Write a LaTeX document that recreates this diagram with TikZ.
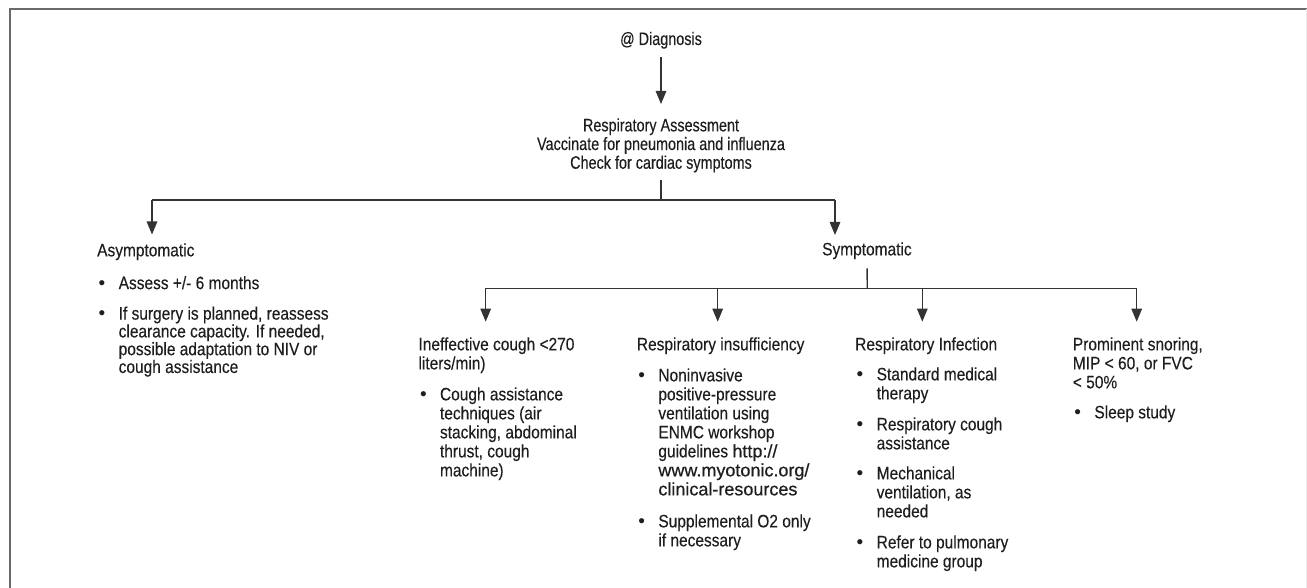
\documentclass[tikz,border=0pt]{standalone}
\usepackage{fontspec}
\setmainfont{Liberation Sans}[FakeStretch=0.86,FakeBold=0.25]
\newfontfamily\headfont{Liberation Sans}[FakeStretch=0.80,FakeBold=0.25]
\newfontfamily\urlfont{Liberation Sans}[FakeBold=0.6]
\newfontfamily\dotfont{Liberation Sans}
\usetikzlibrary{arrows.meta}

\definecolor{ink}{HTML}{1E1E1E}
\definecolor{wirecol}{HTML}{333333}
\definecolor{rimcol}{HTML}{6A6A6A}

\newcommand{\bul}{\makebox[21.5pt][l]{\hspace{1.5pt}{\dotfont\fontsize{19}{19}\selectfont\textbullet}}}
\newcommand{\ind}{\hspace*{21.5pt}}
\newcommand{\link}[1]{{\urlfont\fontsize{18}{19}\selectfont #1}}

\begin{document}
\begin{tikzpicture}[x=1pt,y=-1pt,
    head/.style={inner sep=0pt, text=ink, font=\headfont\fontsize{18}{18.7}\selectfont},
    body/.style={inner sep=0pt, text=ink, align=left, anchor=north west, font=\fontsize{18}{19}\selectfont},
    wire/.style={draw=wirecol, line width=1.4pt},
    arr/.style={wire, -{Triangle[length=13pt,width=10.5pt]}}]
\useasboundingbox (0,0) rectangle (1307,588);
\draw[rimcol, line width=2pt] (9.5,588) -- (9.5,9) -- (1307,9);
\draw[black!8, line width=1pt] (1306,9) -- (1306,588);

\node[head, anchor=base] (diag) at (661,45) {@ Diagnosis};
\node[head, anchor=north, align=center] (assess) at (661,118.1) {Respiratory Assessment\\Vaccinate for pneumonia and influenza\\Check for cardiac symptoms};

\node[body, font=\fontsize{18}{15.5}\selectfont] (asym) at (97,243.1) {Asymptomatic\\[15pt]
\bul Assess +/- 6 months\\[15pt]
\bul If surgery is planned, reassess\\
\ind clearance capacity. If needed,\\
\ind possible adaptation to NIV or\\
\ind cough assistance};
\node[body] (sym) at (822,242.1) {Symptomatic};

\node[body] (cough) at (418.3,337.1) {Ineffective cough <270\\
liters/min)\\[12pt]
\bul Cough assistance\\
\ind techniques (air\\
\ind stacking, abdominal\\
\ind thrust, cough\\
\ind machine)};
\node[body] (insuf) at (636.7,337.1) {Respiratory insufficiency\\[12pt]
\bul Noninvasive\\
\ind positive-pressure\\
\ind ventilation using\\
\ind ENMC workshop\\
\ind guidelines \link{http://}\\
\ind \link{www.myotonic.org/}\\
\ind \link{clinical-resources}\\[13pt]
\bul Supplemental O2 only\\
\ind if necessary};
\node[body] (infect) at (855,337.1) {Respiratory Infection\\[11pt]
\bul Standard medical\\
\ind therapy\\[12pt]
\bul Respiratory cough\\
\ind assistance\\[11pt]
\bul Mechanical\\
\ind ventilation, as\\
\ind needed\\[12pt]
\bul Refer to pulmonary\\
\ind medicine group};
\node[body] (snore) at (1072.7,337.1) {Prominent snoring,\\
MIP < 60, or FVC\\
< 50\%\\[11pt]
\bul Sleep study};

% branch points
\coordinate (split) at (661,200);
\coordinate (left) at (152,200);
\coordinate (right) at (835,200);
\coordinate (fork) at (867.3,288.3);
\coordinate (c1) at (485.7,288.3);
\coordinate (c2) at (717.7,288.3);
\coordinate (c3) at (922.3,288.3);
\coordinate (c4) at (1136.7,288.3);

\draw[arr, shorten <=8.2pt, shorten >=14.1pt] (diag.south) -- (assess.north);
\draw[wire, shorten <=6.9pt] (assess.south) -- (split);
\draw[wire] (left) -- (right);
\draw[arr, shorten >=8.6pt] (left) -- (asym.north -| left);
\draw[arr, shorten >=7.1pt] (right) -- (sym.north -| right);
\draw[wire, shorten <=9.2pt] (sym.south) -- (fork);
\draw[wire] (c1) -- (c4);
\foreach \src/\dst in {c1/cough, c2/insuf, c3/infect, c4/snore}
  \draw[arr, shorten >=15.4pt] (\src) -- (\dst.north -| \src);
\end{tikzpicture}
\end{document}
